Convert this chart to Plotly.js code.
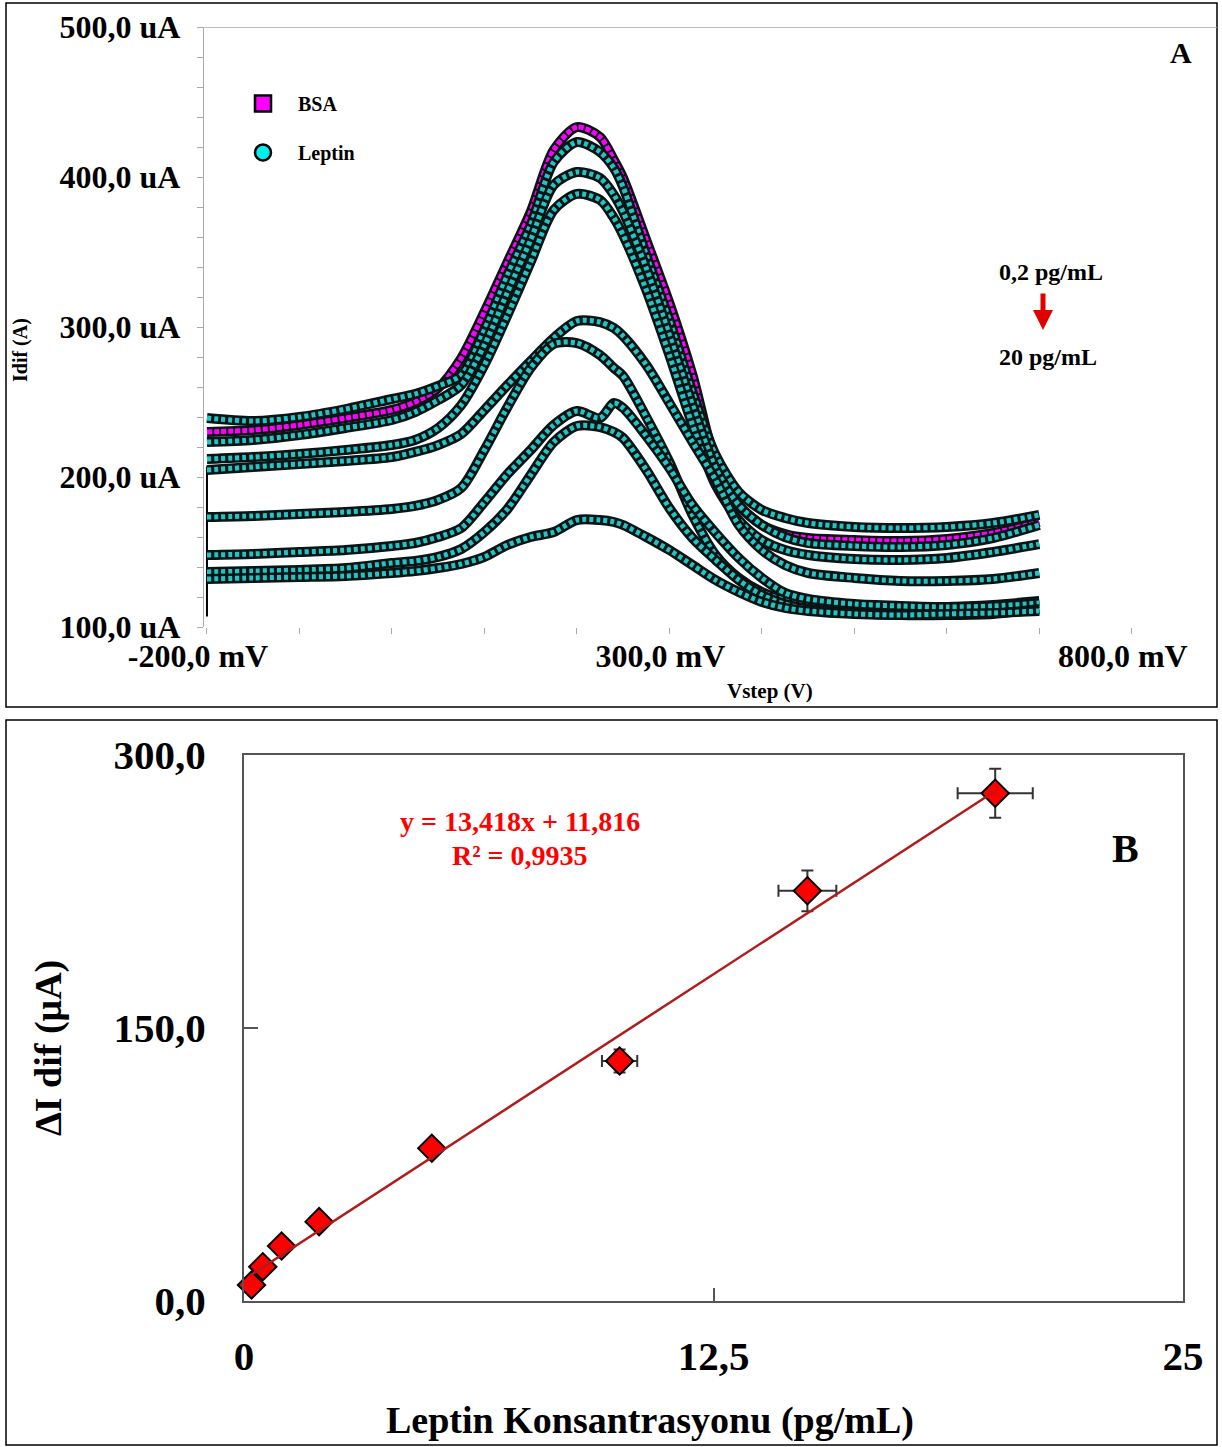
<!DOCTYPE html>
<html><head><meta charset="utf-8">
<script src="https://cdn.plot.ly/plotly-3.0.1.min.js"></script>
<style>html,body{margin:0;padding:0;background:#fff}#chart{width:1222px;height:1447px}</style>
</head><body><div id="chart"></div>
<script>
// ---------- Panel A: DPV curves (mV, uA) ----------
const voltage = [-200,-150,-100,-50,0,25,50,75,100,125,150,175,200,225,240,250,275,300,325,350,375,400,425,450,500,550,600,650,700];
const bsaCurrent = [230,231.3,234.7,239.3,244.7,250,259.3,279.3,310,343.3,376.7,418,433.3,426.7,411.3,399.3,358,316,268,210,181.3,168,162,159.3,158,157.3,158.7,162.7,170];
const leptin1 = [239.3,237.3,240,245.3,252,255.3,260.7,268,298,334.7,368,410,423.3,416.7,406,393.3,348,304.7,256.7,214.7,190,178,172.7,169.3,166.7,166,166.7,169.3,174.7];
const leptin2 = [223.3,224.7,228,232.7,238,243.3,251.3,261.3,288,323.3,358,394.7,403.3,399.3,388,376.7,339.3,294.7,248,206,181.3,168,160,156,154,153.3,154.7,159.3,168];
const leptin3 = [212,213.3,215.3,218,221.3,224.7,232.7,248,274.7,308,343.3,378,388.7,384.7,372.7,361.3,324.7,281.3,234.7,194.7,171.3,158,151.3,148,145.3,144.7,146,150,155.3];
const leptin4 = [204.7,206.7,208.7,210.7,213.3,216.7,221.3,228.7,244.7,261.3,277.3,292.7,304,303.3,299.3,294,274.7,249.3,223.3,198,168,151.3,141.3,136,132.7,130.7,130.7,132,136];
const leptin5 = [173.3,174,175.3,176.7,178.7,180.7,184.7,192.7,218,246.7,272.7,288.7,289.3,281.3,272.7,267.3,240,210,174.7,148,132.7,123.3,118,115.3,114,113.3,113.3,114.7,117.3];
const leptin6 = [148,148.7,150,151.3,154,156,160,166,183.3,202,218,234.7,244,239.3,249.3,246,227.3,206,181.3,162.7,146,132.7,122.7,118.7,115.3,114,113.3,114,116];
const leptin7 = [136.7,137.3,138,139.3,142.7,144,146.7,152,163.3,178.7,201.3,223.3,234,233.3,230,226,204.7,179.3,159.3,144.7,131.3,121.3,115.3,112,109.3,108,108,108.7,112];
const leptin8 = [132,132.7,133.3,134,136,137.3,139.3,142,146.7,154.7,160,163.3,171.3,171.3,170,168,160,151.3,141.3,131.3,123.3,116.7,112.7,110.7,108.7,108,108.7,109.3,110.7];
const transientV = [-200,-200];
const transientI = [107,207];
const xTickVals = [-200,300,800];
const xTickText = ['-200,0 mV','300,0 mV','800,0 mV'];
const yTickVals = [100,200,300,400,500];
const yTickText = ['100,0 uA','200,0 uA','300,0 uA','400,0 uA','500,0 uA'];

// ---------- Panel B: calibration ----------
const concentration = [0.2,0.5,1,2,5,10,15,20];
const deltaI = [8.8,18.8,30.2,43.6,83.9,131.9,225.4,279.0];
const concErr = [0.05,0.08,0.1,0.12,0.2,0.47,0.77,1.0];
const deltaIErr = [1.0,1.5,2.0,2.5,3.5,6.3,11.2,13.5];
const fitX = [0.2,20];
const fitY = [14.5,280.2];
const bTickX = [0,12.5,25];
const bTickXText = ['0','12,5','25'];
const bTickY = [0,150,300];
const bTickYText = ['0,0','150,0','300,0'];

const W = 1222, H = 1447;
const fx = p => p / W;
const fy = p => 1 - p / H;
const SERIF = "'Liberation Serif','Times New Roman',serif";
const bold = (size, color) => ({family: SERIF, size: size, color: color || '#000', weight: 700});

function curve(ys, fill, dash) {
  return [
    {x: voltage, y: ys, mode: 'lines', xaxis: 'x', yaxis: 'y', showlegend: false, hoverinfo: 'skip',
     line: {color: '#0a1414', width: 10, shape: 'spline', smoothing: 0.8}},
    {x: voltage, y: ys, mode: 'lines', xaxis: 'x', yaxis: 'y', showlegend: false,
     line: {color: fill, width: 5, shape: 'spline', smoothing: 0.8, dash: dash}}
  ];
}

const leptinCurves = [leptin1, leptin2, leptin3, leptin4, leptin5, leptin6, leptin7, leptin8];
let traces = [];
traces.push({x: transientV, y: transientI, mode: 'lines', xaxis: 'x', yaxis: 'y', showlegend: false,
             line: {color: '#000', width: 2}});
traces = traces.concat(curve(bsaCurrent, '#ff00ff', '5px,2px'));
leptinCurves.forEach(c => { traces = traces.concat(curve(c, '#22c4c4', '4px,3px')); });

// legend entries
traces.push({x: [null], y: [null], mode: 'markers', name: 'BSA', legendgroup: 'bsa', xaxis: 'x', yaxis: 'y',
             marker: {symbol: 'square', size: 16, color: '#ff00ff', line: {color: '#000', width: 2.5}}});
traces.push({x: [null], y: [null], mode: 'markers', name: 'Leptin', legendgroup: 'lep', xaxis: 'x', yaxis: 'y',
             marker: {symbol: 'circle', size: 16, color: '#00f0f0', line: {color: '#000', width: 2.5}}});

// Panel B
traces.push({x: concentration, y: deltaI, mode: 'markers', xaxis: 'x2', yaxis: 'y2', showlegend: false, cliponaxis: false,
             marker: {symbol: 'diamond', size: 21, color: '#ff0000', line: {color: '#000', width: 2}},
             error_x: {type: 'data', array: concErr, color: '#333', thickness: 2, width: 6},
             error_y: {type: 'data', array: deltaIErr, color: '#333', thickness: 2, width: 6}});
traces.push({x: fitX, y: fitY, mode: 'lines', xaxis: 'x2', yaxis: 'y2', showlegend: false,
             line: {color: '#b01c1c', width: 2.5}});

function note(text, x, y, font, extra) {
  return Object.assign({text: text, xref: 'paper', yref: 'paper', x: fx(x), y: fy(y),
                        xanchor: 'center', yanchor: 'middle', showarrow: false, font: font}, extra || {});
}

const layout = {
  width: W, height: H,
  margin: {l: 0, r: 0, t: 0, b: 0},
  paper_bgcolor: '#fff', plot_bgcolor: 'rgba(0,0,0,0)',
  showlegend: true,
  legend: {x: fx(228), y: fy(84), xanchor: 'left', yanchor: 'top', bgcolor: 'rgba(0,0,0,0)',
           font: bold(20), tracegroupgap: 20, traceorder: 'grouped', itemwidth: 60},
  xaxis: {domain: [fx(204.2), fx(1215)], range: [-203, 890], anchor: 'y',
          tickmode: 'array', tickvals: xTickVals, ticktext: xTickText,
          ticks: 'outside', ticklen: 6, tickcolor: '#aaa', tickwidth: 1,
          minor: {tick0: -200, dtick: 100, ticks: 'outside', ticklen: 6, tickcolor: '#aaa', showgrid: false},
          showline: false, showgrid: false, zeroline: false, ticklabelshift: -9, ticklabelstandoff: -5,
          tickfont: bold(32)},
  yaxis: {domain: [fy(627), fy(27)], range: [100, 500], anchor: 'x',
          tickmode: 'array', tickvals: yTickVals, ticktext: yTickText,
          ticks: 'outside', ticklen: 6, tickcolor: '#aaa',
          minor: {tick0: 100, dtick: 20, ticks: 'outside', ticklen: 6, tickcolor: '#aaa', showgrid: false},
          showline: true, linecolor: '#aaa', linewidth: 1.5, showgrid: false, zeroline: false,
          ticklabelstandoff: 10, tickfont: bold(32)},
  xaxis2: {domain: [fx(244), fx(1183)], range: [0, 25], anchor: 'y2',
           tickmode: 'array', tickvals: bTickX, ticktext: bTickXText,
           ticks: 'inside', ticklen: 13, tickcolor: '#555', tickwidth: 2,
           showline: true, mirror: true, linecolor: '#555', linewidth: 2,
           showgrid: false, zeroline: false, ticklabelstandoff: 18, tickfont: bold(41)},
  yaxis2: {domain: [fy(1301), fy(755)], range: [0, 300], anchor: 'x2',
           tickmode: 'array', tickvals: bTickY, ticktext: bTickYText,
           ticks: 'inside', ticklen: 14, tickcolor: '#555', tickwidth: 2,
           showline: true, mirror: true, linecolor: '#555', linewidth: 2,
           showgrid: false, zeroline: false, ticklabelstandoff: 28, tickfont: bold(41)},
  shapes: [
    {type: 'rect', xref: 'paper', yref: 'paper', x0: fx(6), x1: fx(1217), y0: fy(707), y1: fy(3),
     line: {color: '#000', width: 1.5}},
    {type: 'rect', xref: 'paper', yref: 'paper', x0: fx(6), x1: fx(1217), y0: fy(1445), y1: fy(720),
     line: {color: '#000', width: 1.5}},
    {type: 'line', xref: 'paper', yref: 'y', x0: fx(204.2), x1: fx(1217), y0: 500, y1: 500,
     line: {color: '#aaa', width: 1.5}}
  ],
  annotations: [
    note('A', 1181, 52, bold(30)),
    note('0,2 pg/mL', 1051, 272, bold(24)),
    note('20 pg/mL', 1048, 357, bold(24)),
    {text: '', xref: 'paper', yref: 'paper', x: fx(1043), y: fy(330), ax: 0, ay: -38, showarrow: true,
     arrowcolor: '#e00000', arrowwidth: 5, arrowhead: 2, arrowsize: 0.8},
    note('Idif (A)', 20, 350, bold(20), {textangle: -90}),
    note('Vstep (V)', 770, 691, bold(21)),
    note('y = 13,418x + 11,816', 520, 821, bold(28, '#ff0000')),
    note('R² = 0,9935', 520, 855, bold(28, '#ff0000')),
    note('B', 1125, 848, bold(40)),
    note('ΔI dif (μA)', 48, 1048, bold(38), {textangle: -90}),
    note('Leptin Konsantrasyonu (pg/mL)', 650, 1420, bold(38))
  ]
};

Plotly.newPlot('chart', traces, layout, {displayModeBar: false, staticPlot: true});
</script>
</body></html>
